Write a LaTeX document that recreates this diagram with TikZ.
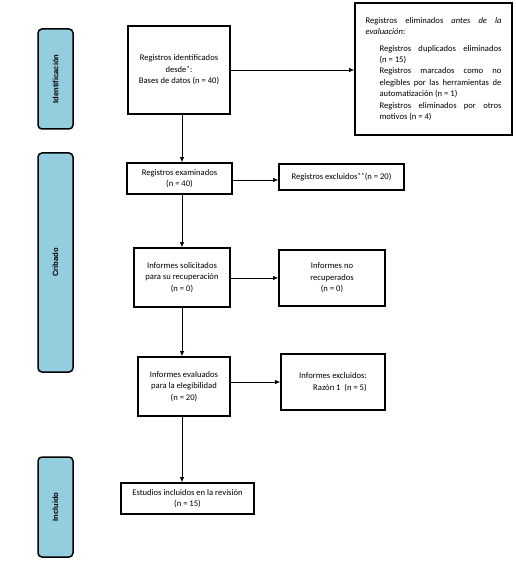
\documentclass[tikz,border=0pt]{standalone}
\usepackage{fontspec}
\setmainfont{Carlito}
\newfontfamily\sidefont{Liberation Sans}
\usetikzlibrary{arrows.meta}
\definecolor{sideblue}{RGB}{148,205,222}
\newcommand{\astk}[1]{\raisebox{0.6pt}{\fontsize{7.4}{7}\selectfont #1}}
\begin{document}
\begin{tikzpicture}[x=1pt,y=-1pt,
  boxx/.style={draw=black,line width=1.6pt,fill=white,inner sep=2pt,align=center,
    font=\fontsize{8.6}{11.5}\selectfont},
  sidebar/.style={draw=black,line width=1.5pt,fill=sideblue,rounded corners=4pt,
    minimum width=35pt,inner sep=0pt},
  sidelabel/.style={font=\sidefont\bfseries\fontsize{7.6}{8}\selectfont,rotate=90},
  arr/.style={-{Latex[length=5pt,width=4.5pt]},line width=0.8pt}]
\useasboundingbox (0,0) rectangle (515,564);
\fill[white] (0,0) rectangle (515,564);
% side bars
\node[sidebar,minimum height=100pt] (sid) at (55.5,79) {};
\node[sidelabel] at (sid.center) {Identificación};
\node[sidebar,minimum height=219pt] (scr) at (55.5,262.5) {};
\node[sidelabel] at (scr.center) {Cribado};
\node[sidebar,minimum height=100pt] (sinc) at (55.5,507) {};
\node[sidelabel] at (sinc.center) {Incluido};
% main boxes
\node[boxx,minimum width=102pt,minimum height=88pt] (id) at (179,70)
  {Registros identificados\\desde\astk{*}:\\Bases de datos (n = 40)};
\node[boxx,minimum width=157pt,minimum height=132pt,align=left] (rem) at (433.5,69)
  {\parbox{136pt}{\fontsize{8.6}{11.4}\selectfont
   \makebox[136pt][s]{Registros eliminados \textit{antes de la}}\\
   \textit{evaluación}:\\[5pt]
   \hspace*{14pt}\makebox[122pt][s]{Registros duplicados eliminados}\\
   \hspace*{14pt}(n = 15)\\
   \hspace*{14pt}\makebox[122pt][s]{Registros marcados como no}\\
   \hspace*{14pt}\makebox[122pt][s]{elegibles por las herramientas de}\\
   \hspace*{14pt}automatización (n = 1)\\
   \hspace*{14pt}\makebox[122pt][s]{Registros eliminados por otros}\\
   \hspace*{14pt}motivos (n = 4)}};
\node[boxx,minimum width=105pt,minimum height=31pt] (exam) at (179.5,178.5)
  {Registros examinados\\(n = 40)};
\node[boxx,minimum width=125pt,minimum height=26pt] (excl) at (341.5,177)
  {Registros excluidos\astk{**}(n = 20)};
\node[boxx,minimum width=96pt,minimum height=59pt] (sol) at (182,277.5)
  {Informes solicitados\\para su recuperación\\(n = 0)};
\node[boxx,minimum width=106pt,minimum height=56pt] (norec) at (332,278)
  {Informes no\\recuperados\\(n = 0)};
\node[boxx,minimum width=92pt,minimum height=59pt] (eval) at (184,386.5)
  {Informes evaluados\\para la elegibilidad\\(n = 20)};
\node[boxx,minimum width=104pt,minimum height=56pt,align=left] (exclr) at (333,382)
  {Informes excluidos:\\\hspace*{14pt}Razón 1~ (n = 5)};
\node[boxx,minimum width=133pt,minimum height=31pt] (inc) at (187.5,498.5)
  {Estudios incluidos en la revisión\\(n = 15)};
% connectors
\coordinate (spine) at (182,0);
\draw[arr] (id.south -| spine) -- (exam.north -| spine);
\draw[arr] (exam.south -| spine) -- (sol.north -| spine);
\draw[arr] (sol.south -| spine) -- (eval.north -| spine);
\draw[arr] (eval.south -| spine) -- (inc.north -| spine);
\draw[arr] (id.east) -- (rem.west |- id.east);
\coordinate (ey) at (0,180);
\draw[arr] (exam.east |- ey) -- (excl.west |- ey);
\draw[arr] (sol.east |- norec.west) -- (norec.west);
\draw[arr] (eval.east |- exclr.west) -- (exclr.west);
\end{tikzpicture}
\end{document}
